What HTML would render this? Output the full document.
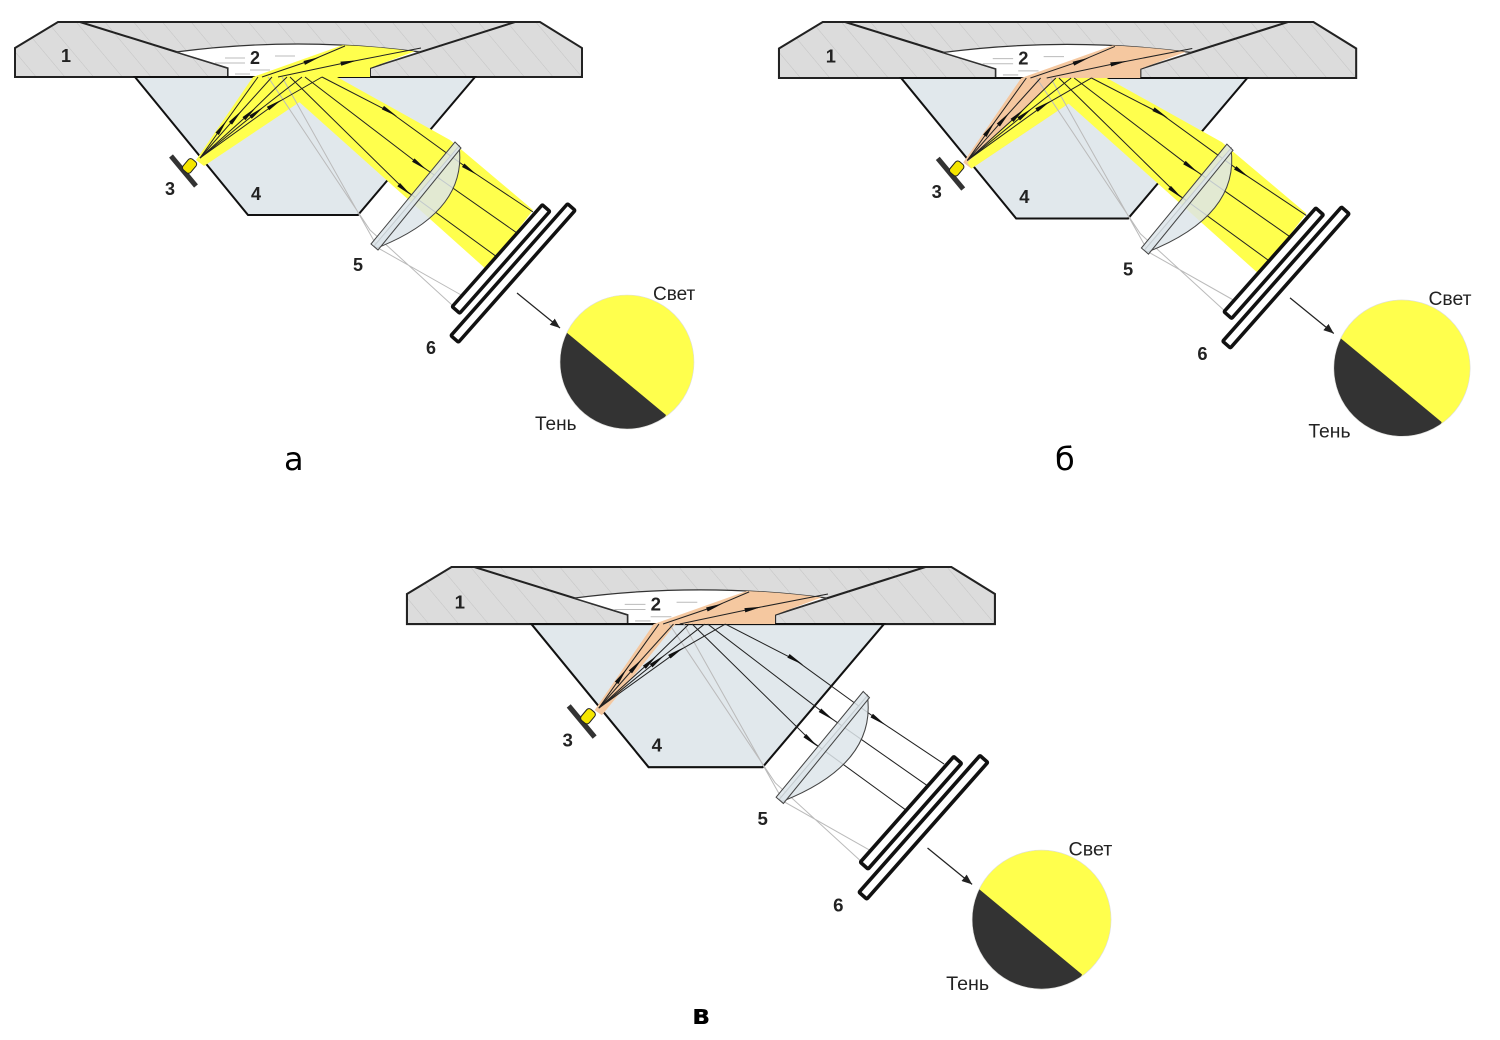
<!DOCTYPE html>
<html><head><meta charset="utf-8"><style>
html,body{margin:0;padding:0;background:#fff;}
svg{display:block;}
.n{font-family:"Liberation Sans",sans-serif;font-weight:bold;font-size:18px;fill:#222;}
.t{font-family:"Liberation Sans",sans-serif;font-size:19px;fill:#222;}
.big{font-family:"DejaVu Sans","Liberation Sans",sans-serif;font-size:32px;fill:#000;}
</style></head><body>
<svg width="1500" height="1040" viewBox="0 0 1500 1040" xmlns="http://www.w3.org/2000/svg">
<defs>
<pattern id="h" patternUnits="userSpaceOnUse" width="22" height="22" patternTransform="rotate(-40)">
<rect width="22" height="22" fill="#dcdcdc"/><line x1="0" y1="0" x2="0" y2="22" stroke="#c4c4c4" stroke-width="1"/>
</pattern>
<marker id="ar" viewBox="0 0 20 6" refX="10" refY="3" markerWidth="18" markerHeight="5" markerUnits="userSpaceOnUse" orient="auto">
<path d="M0,0.5 L20,3 L0,5.5 Z" fill="#111"/>
</marker>
<marker id="ah" viewBox="0 0 10 8" refX="10" refY="4" markerWidth="10" markerHeight="8" markerUnits="userSpaceOnUse" orient="auto">
<path d="M0,0 L10,4 L0,8 Z" fill="#222"/>
</marker>
<clipPath id="cc"><circle cx="627" cy="362" r="67"/></clipPath>
<clipPath id="cav"><path d="M176,52 Q298,36 420,52 L370,68 L370,77 L228,77 L228,68 Z"/></clipPath>
<g id="base">
<path d="M15,48 L58,22 L540,22 L582,48 L582,77 L15,77 Z" fill="url(#h)" stroke="#222" stroke-width="2"/>
<path d="M80,22 L228,68 L228,77 M515,22 L370,68 L370,77" fill="none" stroke="#222" stroke-width="2"/>
<path d="M176,52 Q298,36 420,52 L370,68 L370,77 L228,77 L228,68 Z" fill="#fff" stroke="#333" stroke-width="1.2"/>
<path d="M225,58 h20 M215,63 h30 M275,56 h20 M300,62 h25 M250,70 h20 M310,72 h20 M235,74 h15" stroke="#bbb" stroke-width="1"/>
<path d="M135,77 L475,77 L358,215 L248,215 Z" fill="#e1e8ec" stroke="#111" stroke-width="2"/>
</g>
<g id="rays" fill="none" stroke="#222" stroke-width="1">
<path d="M268,77 L370,230 L452,305 M282,77 L378,248 L470,300" stroke="#bbb"/>
<path d="M200,158 L222,127 L258,77" marker-mid="url(#ar)"/>
<path d="M200,158 L236,117 L272,77" marker-mid="url(#ar)"/>
<path d="M200,158 L250,113 L287,77" marker-mid="url(#ar)"/>
<path d="M200,158 L257,112 L302,77" marker-mid="url(#ar)"/>
<path d="M200,158 L275,104 L322,77" marker-mid="url(#ar)"/>
<path d="M262,77 L312,60 L345,46" marker-mid="url(#ar)"/>
<path d="M278,77 L349,62 L421,48" marker-mid="url(#ar)"/>
<path d="M290,77 L405,190 L497,257" marker-mid="url(#ar)"/>
<path d="M305,77 L420,165 L517,233" marker-mid="url(#ar)"/>
<path d="M322,77 L390,112 L470,170 L533,212" marker-mid="url(#ar)"/>
</g>
<g id="top">
<path d="M459,146 Q468,212 377,248 L374,246 Z" fill="#dde5ea" fill-opacity="0.85" stroke="#444" stroke-width="1"/>
<path d="M455,142 L461,148 L378,250 L371,244 Z" fill="#dde5ea" fill-opacity="0.85" stroke="#444" stroke-width="1"/>
<g fill="#fff" stroke="#111" stroke-width="3.5">
<rect x="-68" y="-5" width="136" height="10" rx="1" transform="translate(501,259) rotate(-48.5)"/>
<rect x="-88" y="-5" width="176" height="10" rx="1" transform="translate(513,273) rotate(-48.5)"/>
</g>
<line x1="517" y1="293" x2="560" y2="328" stroke="#222" stroke-width="1.2" marker-end="url(#ah)"/>
<line x1="171" y1="156" x2="196" y2="186" stroke="#333" stroke-width="5"/>
<rect x="-3" y="-5" width="14" height="10" rx="3" transform="translate(187,169) rotate(-50)" fill="#f5e600" stroke="#222" stroke-width="1"/>
<circle cx="627" cy="362" r="67" fill="#ffff4d"/>
<path d="M566,332 L666,415 L640,470 L540,420 Z" fill="#333" clip-path="url(#cc)"/>
<circle cx="627" cy="362" r="67" fill="none" stroke="#ddd" stroke-width="0.6"/>
</g>
</defs>

<!-- a -->
<g>
<use href="#base"/>
<path d="M253,77 L343,45 L421,49 L370,68 L370,77 Z" fill="#ffff4d" clip-path="url(#cav)"/>
<path d="M196,160 L253,77 L337,77 L204,166 Z" fill="#ffff4d"/>
<path d="M290,77 L337,77 L450,140 L533,210 L487,270 L297,100 Z" fill="#ffff4d"/>
<use href="#rays"/>
<use href="#top"/>
<text class="n" x="61" y="62">1</text><text class="n" x="250" y="64">2</text>
<text class="n" x="165" y="195">3</text><text class="n" x="251" y="200">4</text>
<text class="n" x="353" y="271">5</text><text class="n" x="426" y="354">6</text>
<text class="t" x="653" y="300">Свет</text><text class="t" x="535" y="430">Тень</text>
</g>
<text class="big" x="284" y="470">а</text>

<!-- б -->
<g transform="translate(763.7,-0.4) scale(1.018)">
<use href="#base"/>
<path d="M253,77 L343,45 L421,49 L370,68 L370,77 Z" fill="#f5c8a0" clip-path="url(#cav)"/>
<path d="M196,160 L253,77 L337,77 L204,166 Z" fill="#f5c8a0"/>
<path d="M200,160 L287,77 L337,77 L204,166 Z" fill="#ffff4d"/>
<path d="M290,77 L337,77 L450,140 L533,210 L487,270 L297,100 Z" fill="#ffff4d"/>
<use href="#rays"/>
<use href="#top"/>
<text class="n" x="61" y="62">1</text><text class="n" x="250" y="64">2</text>
<text class="n" x="165" y="195">3</text><text class="n" x="251" y="200">4</text>
<text class="n" x="353" y="271">5</text><text class="n" x="426" y="354">6</text>
<text class="t" x="653" y="300">Свет</text><text class="t" x="535" y="430">Тень</text>
</g>
<text class="big" x="1055" y="470">б</text>

<!-- в -->
<g transform="translate(391.4,544.2) scale(1.037)">
<use href="#base"/>
<path d="M253,77 L343,45 L421,49 L370,68 L370,77 Z" fill="#f5c8a0" clip-path="url(#cav)"/>
<path d="M196,160 L253,77 L274,77 L203,165 Z" fill="#f5c8a0"/>
<use href="#rays"/>
<use href="#top"/>
<text class="n" x="61" y="62">1</text><text class="n" x="250" y="64">2</text>
<text class="n" x="165" y="195">3</text><text class="n" x="251" y="200">4</text>
<text class="n" x="353" y="271">5</text><text class="n" x="426" y="354">6</text>
<text class="t" x="653" y="300">Свет</text><text class="t" x="535" y="430">Тень</text>
</g>
<text class="big" x="692" y="1024" style="font-weight:bold;font-size:28px">в</text>
</svg>
</body></html>
